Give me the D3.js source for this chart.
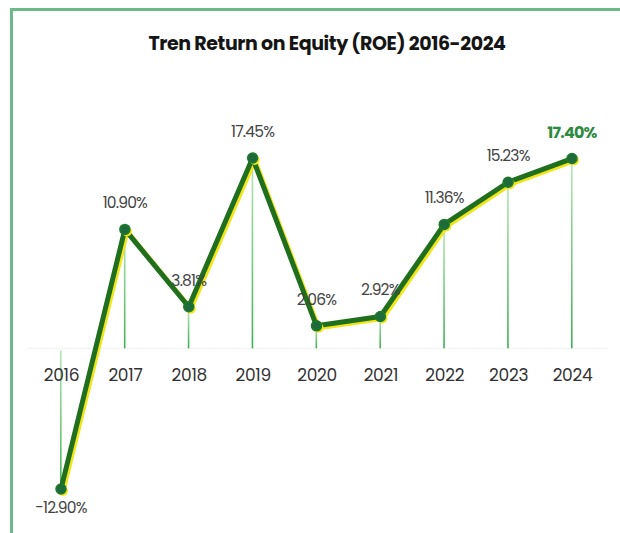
<!DOCTYPE html>
<html><head><meta charset="utf-8">
<script src="https://cdn.jsdelivr.net/npm/d3@7"></script>
<style>html,body{margin:0;padding:0;background:#fff;}svg{display:block;}</style>
</head><body>
<svg id="chart" width="620" height="533"></svg>
<script>
const years = ["2016","2017","2018","2019","2020","2021","2022","2023","2024"];
const roe = [-12.90, 10.90, 3.81, 17.45, 2.06, 2.92, 11.36, 15.23, 17.40];
const labels = ["-12.90%","10.90%","3.81%","17.45%","2.06%","2.92%","11.36%","15.23%","17.40%"];
const title = "Tren Return on Equity (ROE) 2016-2024";

const svg = d3.select("#chart");
const font = "Poppins, Inter, 'Open Sans', sans-serif";

// frame
svg.append("path").attr("d","M11.5,533 L11.5,9.5 L620,9.5")
  .attr("fill","none").attr("stroke","#6db98c").attr("stroke-width",3);

svg.append("text").attr("x",327).attr("y",50).attr("text-anchor","middle")
  .attr("font-family",font).attr("font-weight",700).attr("font-size",19)
  .attr("fill","#151515").attr("letter-spacing","-0.4").text(title);

const x = d3.scalePoint().domain(years).range([61,572]);
const y = d3.scaleLinear().domain([-12.90, 17.45]).range([489,158]);

const defs = svg.append("defs");
const gUp = defs.append("linearGradient").attr("id","gup").attr("x1",0).attr("y1",0).attr("x2",0).attr("y2",1);
gUp.append("stop").attr("offset","0%").attr("stop-color","#b9e6b9");
gUp.append("stop").attr("offset","100%").attr("stop-color","#3fb14f");

// baseline
svg.append("line").attr("x1",28).attr("x2",608).attr("y1",y(0)).attr("y2",y(0))
  .attr("stroke","#ececec").attr("stroke-width",1).attr("stroke-dasharray","2,1");

// drop lines
svg.selectAll("rect.drop").data(roe).enter().append("rect").attr("class","drop")
  .attr("x",(d,i)=>x(years[i])-1)
  .attr("width",1.6)
  .attr("y",d=>d>=0?y(d):y(0)+2)
  .attr("height",d=>Math.abs(y(d)-y(0)))
  .attr("fill","url(#gup)");

// x axis labels
const xAxis = d3.axisBottom(x).tickSize(0).tickPadding(0);
const ax = svg.append("g").attr("transform",`translate(0,${y(0)+33})`).call(xAxis);
ax.select(".domain").remove();
ax.selectAll("text").attr("font-family",font).attr("font-size",17).attr("fill","#333")
  .attr("letter-spacing","-0.3").attr("dy","0");

const line = d3.line().x((d,i)=>x(years[i])).y(d=>y(d));
// yellow shadow
svg.append("path").datum(roe).attr("d",line).attr("transform","translate(2,2)")
  .attr("fill","none").attr("stroke","#f0e61a").attr("stroke-width",5).attr("stroke-linejoin","round");
svg.append("path").datum(roe).attr("d",line)
  .attr("fill","none").attr("stroke","#1f6f1f").attr("stroke-width",5).attr("stroke-linejoin","round");

// markers
svg.selectAll("circle.s").data(roe).enter().append("circle")
  .attr("cx",(d,i)=>x(years[i])+2).attr("cy",d=>y(d)+2).attr("r",5).attr("fill","#f0e61a");
svg.selectAll("circle.m").data(roe).enter().append("circle")
  .attr("cx",(d,i)=>x(years[i])).attr("cy",d=>y(d)).attr("r",5)
  .attr("fill","#1d6a3a").attr("stroke","#1f7a2a").attr("stroke-width",1.5);

// value labels
svg.selectAll("text.v").data(roe).enter().append("text")
  .attr("x",(d,i)=>x(years[i]))
  .attr("y",(d,i)=> d<0 ? y(d)+24 : y(d)-21)
  .attr("text-anchor","middle")
  .attr("font-family",font)
  .attr("font-size",(d,i)=> i===roe.length-1?16:15.5)
  .attr("font-weight",(d,i)=> i===roe.length-1?700:400)
  .attr("fill",(d,i)=> i===roe.length-1?"#2f8a3f":"#444")
  .attr("letter-spacing","-0.8")
  .text((d,i)=>labels[i]);
</script>
</body></html>
